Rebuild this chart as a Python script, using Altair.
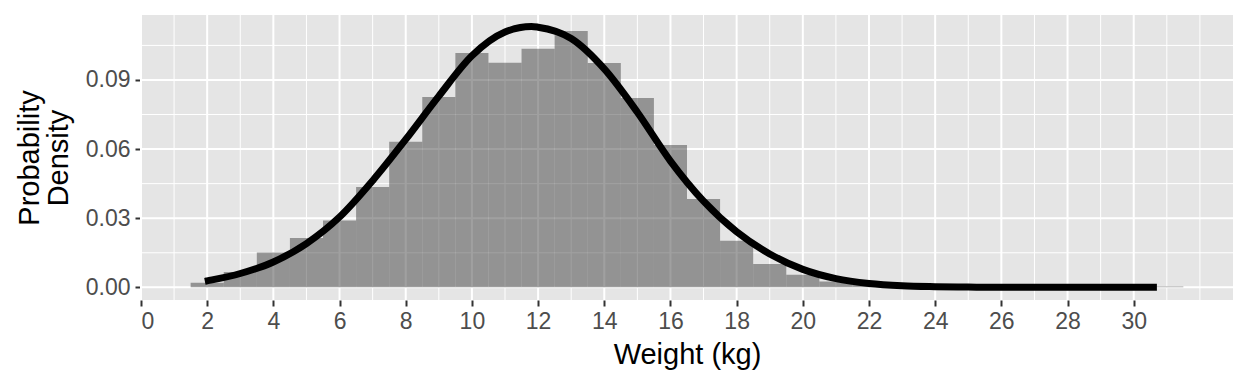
import altair as alt
import pandas as pd

# Histogram (bins of width 1 centred on integers), density scale
bin_centers = list(range(2, 32))
bin_density = [0.0020, 0.0066, 0.0151, 0.0214, 0.0290, 0.0436, 0.0632, 0.0826, 0.1017, 0.0975,
               0.1035, 0.1113, 0.0974, 0.0822, 0.0618, 0.0383, 0.0202, 0.0101, 0.0055, 0.0025,
               0.0010, 0.0003, 0.0, 0.0, 0.0, 0.0, 0.0, 0.0, 0.0, 0.0004]

# Fitted density curve
curve_x = [1.93, 2, 3, 4, 5, 6, 7, 8, 9, 10, 11, 11.8, 12, 13, 14, 15, 16, 17, 18, 19,
           20, 21, 22, 23, 24, 25, 26, 27, 28, 29, 30, 30.7]
curve_y = [0.0026, 0.0028, 0.0060, 0.0110, 0.0190, 0.0305, 0.0463, 0.0642, 0.0830, 0.1005,
           0.1108, 0.1132, 0.1129, 0.1080, 0.0948, 0.0760, 0.0548, 0.0374, 0.0241, 0.0145,
           0.0078, 0.0038, 0.0017, 0.0007, 0.0003, 0.0001, 0.00004, 0.00001, 0.0, 0.0, 0.0, 0.0]

x_ticks = list(range(0, 31, 2))
x_minor = list(range(1, 33, 2)) + [32]
y_ticks = [0.0, 0.03, 0.06, 0.09]
y_minor = [0.015, 0.045, 0.075, 0.105]

X_DOMAIN = [0, 33]
Y_DOMAIN = [-0.0055, 0.1182]
FONT = "Liberation Sans"

bars = pd.DataFrame({"center": bin_centers, "density": bin_density})
bars["start"] = bars["center"] - 0.5
bars["end"] = bars["center"] + 0.5
curve = pd.DataFrame({"x": curve_x, "y": curve_y})

xs = alt.Scale(domain=X_DOMAIN, nice=False, zero=False)
ys = alt.Scale(domain=Y_DOMAIN, nice=False, zero=False)

x_axis = alt.Axis(values=x_ticks, grid=False, domain=False, tickColor="#333333", tickWidth=2,
                  tickSize=6, labelFontSize=23, labelColor="#4D4D4D", labelPadding=4,
                  title="Weight (kg)", titleFontSize=29, titleColor="black",
                  titleFontWeight="normal", titlePadding=7, labelFont=FONT, titleFont=FONT)
y_axis = alt.Axis(values=y_ticks, format=".2f", grid=False, domain=False, tickColor="#333333",
                  tickWidth=2, tickSize=6, labelFontSize=23, labelColor="#4D4D4D", labelPadding=5,
                  title=["Probability", "Density"], titleFontSize=29, titleColor="black",
                  titleFontWeight="normal", titlePadding=12, titleLineHeight=29,
                  labelFont=FONT, titleFont=FONT)

vminor = alt.Chart(pd.DataFrame({"v": x_minor})).mark_rule(color="white", strokeWidth=1).encode(
    x=alt.X("v:Q", scale=xs, axis=x_axis))
hminor = alt.Chart(pd.DataFrame({"v": y_minor})).mark_rule(color="white", strokeWidth=1).encode(
    y=alt.Y("v:Q", scale=ys, axis=y_axis))
vmajor = alt.Chart(pd.DataFrame({"v": x_ticks})).mark_rule(color="white", strokeWidth=2).encode(
    x=alt.X("v:Q", scale=xs, axis=x_axis))
hmajor = alt.Chart(pd.DataFrame({"v": y_ticks})).mark_rule(color="white", strokeWidth=2).encode(
    y=alt.Y("v:Q", scale=ys, axis=y_axis))

hist = alt.Chart(bars).mark_rect(color="#414141", opacity=0.5).encode(
    x=alt.X("start:Q", scale=xs, axis=x_axis),
    x2="end:Q",
    y=alt.Y("density:Q", scale=ys, axis=y_axis),
    y2=alt.datum(0),
)

line = alt.Chart(curve).mark_line(color="black", strokeWidth=7, interpolate="monotone",
                                  strokeCap="butt").encode(
    x=alt.X("x:Q", scale=xs, axis=x_axis),
    y=alt.Y("y:Q", scale=ys, axis=y_axis),
)

chart = alt.layer(vminor, hminor, vmajor, hmajor, hist, line).properties(
    width=1092, height=285,
    autosize=alt.AutoSizeParams(type="none"),
    padding={"left": 133, "top": 7, "right": 7, "bottom": 76},
    background="white",
).configure(font=FONT).configure_view(fill="#E5E5E5", stroke="transparent", strokeWidth=0)

chart.save("out.html", embed_options={"renderer": "svg", "actions": False})
